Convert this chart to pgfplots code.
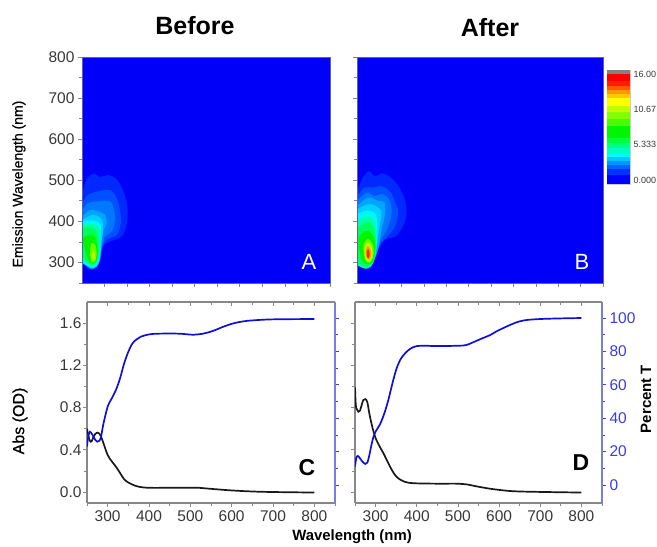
\documentclass[border=0pt]{standalone}
\usepackage{pgfplots}
\pgfplotsset{compat=1.18}
\usepackage{fontspec}
\setmainfont{Liberation Sans}
\newfontfamily\semib[FakeBold=0.6]{Liberation Sans}
\definecolor{bg}{RGB}{0,0,250}
\definecolor{tk}{RGB}{55,55,55}
\definecolor{fr}{RGB}{135,135,135}
\definecolor{bl}{RGB}{15,15,215}
\definecolor{bt}{RGB}{60,60,215}
\definecolor{c1}{RGB}{0,40,255}
\definecolor{c2}{RGB}{0,80,255}
\definecolor{c3}{RGB}{0,120,255}
\definecolor{c4}{RGB}{0,165,255}
\definecolor{c5}{RGB}{0,210,255}
\definecolor{c6}{RGB}{0,245,255}
\definecolor{c7}{RGB}{0,255,170}
\definecolor{c8}{RGB}{0,255,90}
\definecolor{c9}{RGB}{0,245,0}
\definecolor{c10}{RGB}{110,255,0}
\definecolor{c11}{RGB}{190,255,0}
\definecolor{c12}{RGB}{255,160,0}
\definecolor{c13}{RGB}{255,40,0}
\pgfplotsset{
  base/.style={scale only axis, anchor=south west, clip=true,
    /pgf/number format/assume math mode=true,
    tick label style={font=\fontsize{15.5}{16}\selectfont, text=tk},
    axis line style={draw=fr, line width=0.9pt},
    every tick/.style={draw=fr, line width=0.7pt},
    major tick length=4pt, minor tick length=3pt, tick align=outside},
  heat/.style={base, width=248pt, height=226pt, xmin=250, xmax=800, ymin=250, ymax=800,
    xtick={300,350,...,800}, xticklabels={}, ytick={300,400,...,800}, minor ytick={250,350,...,750},
    xtick pos=bottom, ytick pos=left, axis on top,
    axis line style={draw=fr!70!blue, line width=0.7pt}},
  band/.style={draw=none, smooth cycle, tension=0.6, fill=#1},
  low/.style={base, width=248pt, height=201pt, xmin=250, xmax=850, ymin=-0.104, ymax=1.799,
    axis x line*=bottom, axis y line*=left,
    xtick={300,400,...,800}, minor xtick={250,350,...,850},
    ytick={0,0.4,...,1.6}, minor ytick={0.2,0.6,...,1.4},
    yticklabel style={/pgf/number format/fixed, /pgf/number format/fixed zerofill, /pgf/number format/precision=1, xshift=2pt},
    axis line style={draw=fr, line width=1.1pt}},
  lowT/.style={base, width=248pt, height=201pt, xmin=250, xmax=850, ymin=-10.8, ymax=109.6,
    axis x line=none, axis y line*=right, ytick={0,20,...,100}, minor ytick={10,30,...,90},
    axis line style={draw={rgb,255:red,125;green,125;blue,225}, line width=1.1pt},
    every tick/.style={draw=bt, line width=0.7pt},
    tick label style={font=\fontsize{15.5}{16}\selectfont, text=bt}},
  lowTop/.style={base, width=248pt, height=201pt, xmin=250, xmax=850, ymin=0, ymax=1,
    axis y line=none, axis x line*=top, tick align=inside,
    xtick={300,400,...,800}, minor xtick={250,350,...,850}, xticklabels={},
    axis line style={draw=fr, line width=1.1pt}},
  abs/.style={black!90, line width=1.7pt, smooth, tension=0.55},
  trans/.style={bl, line width=1.7pt, smooth, tension=0.55},
}
\newcommand{\cb}[5]{\addplot[draw=none, fill={rgb,255:red,#1;green,#2;blue,#3}] coordinates {(0,#4) (1,#4) (1,#5) (0,#5)} --cycle;}
\begin{document}
\begin{tikzpicture}[x=1pt,y=1pt]
\useasboundingbox (0,0) rectangle (657,547);
% ---------- heat map A
\begin{axis}[heat, at={(82pt,264pt)}]
\addplot[draw=none, fill=bg] coordinates {(250,250) (800,250) (800,800) (250,800)} --cycle;
\addplot[band=c1] coordinates {(250,469)(260,502)(275,516)(290,508)(308,513)(327,502)(342,473)(351,433)(349,392)(338,363)(312,351)(297,339)(286,298)(271,282)(250,298)(235,298)(235,440)};
\addplot[band=c2] coordinates {(250,445)(264,465)(286,473)(312,476)(327,457)(334,428)(336,396)(327,367)(305,355)(294,335)(287,300)(273,283)(250,298)(235,298)(235,430)};
\addplot[band=c3] coordinates {(250,428)(264,445)(286,449)(312,449)(321,428)(323,400)(316,376)(301,363)(294,335)(287,300)(274,284)(250,298)(235,298)(235,420)};
\addplot[band=c4] coordinates {(250,412)(268,428)(286,424)(301,416)(305,396)(297,376)(294,347)(289,302)(274,285)(250,298)(235,298)(235,405)};
\addplot[band=c5] coordinates {(250,404)(275,416)(294,404)(297,384)(294,355)(288,304)(274,286)(250,299)(235,299)(235,400)};
\addplot[band=c6] coordinates {(250,400)(275,402)(291,392)(291,355)(288,306)(274,287)(250,300)(235,300)(235,398)};
\addplot[band=c7] coordinates {(250,392)(271,394)(288,384)(290,347)(286,306)(275,289)(264,294)(250,306)(235,306)(235,390)};
\addplot[band=c8] coordinates {(250,384)(275,384)(286,363)(286,315)(275,294)(260,302)(250,315)(235,315)(235,384)};
\addplot[band=c9] coordinates {(253,359)(275,367)(284,339)(284,311)(275,297)(264,306)(257,331)};
\addplot[band=c10] coordinates {(271,347)(279,343)(282.5,323)(279,302)(271,302)(268,323)};
\addplot[band=c11] coordinates {(275,331)(279,315)(275,305)(271,315)};
\end{axis}
% ---------- heat map B
\begin{axis}[heat, at={(357pt,264pt)}, width=246pt, yticklabels={}]
\addplot[draw=none, fill=bg] coordinates {(250,250) (800,250) (800,800) (250,800)} --cycle;
\addplot[band=c1] coordinates {(250,474)(263,506)(277,522)(289.5,510)(308,517)(330.5,502)(349,474)(360,438)(357,398)(338,365)(316,357)(301,341)(289.5,309)(275,285)(250,293)(235,293)(235,450)};
\addplot[band=c2] coordinates {(250,462)(267,482)(286,482)(304.5,486)(323,474)(334,450)(342,422)(334,385)(316,361)(301,341)(289,309)(275,286)(250,294)(235,294)(235,450)};
\addplot[band=c3] coordinates {(250,450)(271,470)(289.5,462)(308,466)(323,450)(327,418)(316,377)(304.5,357)(289,309)(275,286)(250,294)(235,294)(235,440)};
\addplot[band=c4] coordinates {(250,438)(275,458)(297,450)(312,446)(312,414)(304.5,377)(299,341)(289,309)(275,287)(250,295)(235,295)(235,430)};
\addplot[band=c5] coordinates {(250,430)(278,442)(301,430)(304.5,414)(297,365)(289,309)(275,287)(250,295)(235,295)(235,425)};
\addplot[band=c6] coordinates {(250,418)(275,426)(293,414)(295,361)(289.5,309)(275,288)(250,296)(235,296)(235,415)};
\addplot[band=c7] coordinates {(250,402)(275,414)(289.5,398)(293,349)(286,301)(271,285)(250,293)(235,293)(235,400)};
\addplot[band=c8] coordinates {(250,385)(275,398)(289.5,377)(292,333)(286,301)(271,289)(256,297)(235,300)(235,385)};
\addplot[band=c9] coordinates {(254.5,361)(275,377)(289.5,353)(289.5,317)(282,297)(267,297)(257.5,317)};
\addplot[band=c10] coordinates {(265,345)(275,357)(286,341)(286,313)(278,299)(269,305)(265,325)};
\addplot[band=c11] coordinates {(267,337)(275,349)(283.6,333)(283.6,313)(277,302)(269,309)};
\addplot[band=c12] coordinates {(269,329)(275,341)(281,329)(281,313)(276,306)(271,313)};
\addplot[band=c13] coordinates {(271.6,325)(275,333)(278,325)(278,315)(275.4,310)(272,315)};
\end{axis}
% ---------- colour scale
\begin{axis}[base, at={(607pt,363pt)}, width=23pt, height=114pt, xmin=0, xmax=1, ymin=-0.6, ymax=16.6,
  xtick=\empty, ytick={0,5.333,10.67,16}, yticklabels={0.000,5.333,10.67,16.00}, ytick pos=right,
  major tick length=0pt, axis line style={draw=gray!40, line width=0.5pt},
  tick label style={font=\fontsize{9}{10}\selectfont, text=tk}]
\cb{0}{0}{255}{-0.6}{0.8}
\cb{0}{50}{255}{0.8}{1.6}
\cb{0}{100}{255}{1.6}{2.3}
\cb{0}{150}{255}{2.3}{2.9}
\cb{0}{200}{255}{2.9}{3.4}
\cb{0}{250}{255}{3.4}{4.0}
\cb{0}{255}{190}{4.0}{4.8}
\cb{0}{255}{130}{4.8}{5.6}
\cb{0}{255}{60}{5.6}{6.4}
\cb{0}{245}{0}{6.4}{8.2}
\cb{70}{255}{0}{8.2}{9.2}
\cb{130}{255}{0}{9.2}{10.2}
\cb{190}{255}{0}{10.2}{11.2}
\cb{255}{255}{0}{11.2}{12.4}
\cb{255}{200}{0}{12.4}{13.0}
\cb{255}{150}{0}{13.0}{13.6}
\cb{255}{90}{0}{13.6}{14.2}
\cb{255}{30}{0}{14.2}{15.0}
\cb{250}{0}{0}{15.0}{16.0}
\cb{130}{130}{130}{16.0}{16.6}
\end{axis}
% ---------- panel C
\begin{axis}[low, at={(87pt,44pt)}]
\addplot[abs] coordinates {(250,0.60)(253,0.54)(257,0.485)(261,0.478)(266,0.525)(270,0.55)(275,0.563)(280,0.553)(284,0.525)(290,0.46)(300,0.35)(310,0.29)(320,0.24)(330,0.18)(340,0.12)(350,0.09)(360,0.07)(375,0.05)(400,0.04)(450,0.04)(500,0.04)(520,0.04)(550,0.03)(600,0.015)(650,0.005)(700,0)(800,-0.005)};
\end{axis}
\begin{axis}[lowT, at={(87pt,44pt)}, yticklabels={}]
\addplot[trans] coordinates {(250,23)(253,29)(257,31.9)(262,30.5)(266,28.9)(270,27)(275,25.9)(280,26.5)(284,28.9)(290,36.9)(300,46.9)(310,51.9)(320,56.9)(330,63.9)(340,72.9)(350,79.8)(360,84.8)(370,87.2)(380,88.8)(400,90.2)(420,90.6)(450,90.7)(476,90.6)(508,90)(534,90.8)(556,92.4)(580,94.8)(604,96.8)(628,98)(652,98.6)(700,99.2)(800,99.4)};
\end{axis}
\begin{axis}[lowTop, at={(87pt,44pt)}]\end{axis}
% ---------- panel D
\begin{axis}[low, at={(355pt,44pt)}, width=247pt, yticklabels={}]
\addplot[abs] coordinates {(250,0.99)(252,0.82)(255,0.78)(258,0.76)(262,0.77)(266,0.82)(270,0.87)(275,0.88)(280,0.85)(285,0.74)(290,0.65)(295,0.57)(300,0.51)(310,0.43)(320,0.36)(330,0.28)(340,0.205)(350,0.148)(360,0.117)(370,0.098)(380,0.088)(400,0.082)(450,0.079)(500,0.079)(520,0.073)(550,0.05)(580,0.03)(600,0.02)(650,0.005)(800,-0.005)};
\end{axis}
\begin{axis}[lowT, at={(355pt,44pt)}, width=247pt]
\addplot[trans] coordinates {(250,11)(253,16)(257,17.4)(262,16)(268,14)(275,12.6)(280,13.4)(285,18)(290,24)(295,29)(300,32)(310,36)(320,42)(330,50)(340,60)(350,69)(360,75)(370,78.4)(380,80.8)(390,82.4)(400,83.2)(420,83.4)(450,83.2)(500,83.4)(520,83.8)(540,85.8)(553,87.2)(580,90)(600,92.8)(650,98)(700,99.4)(800,100)};
\end{axis}
\begin{axis}[lowTop, at={(355pt,44pt)}, width=247pt]\end{axis}
% ---------- texts
\node[font=\fontsize{25}{26}\selectfont\bfseries] at (195,521) {Before};
\node[font=\fontsize{25}{26}\selectfont\bfseries] at (490,519) {After};
\node[font=\fontsize{14}{15}\selectfont\semib, rotate=90, text=black] at (19,363) {Emission Wavelength (nm)};
\node[font=\fontsize{16}{17}\selectfont\semib, rotate=90, text=black] at (20,126) {Abs (OD)};
\node[font=\fontsize{15}{16}\selectfont\bfseries, rotate=90] at (646,148) {Percent T};
\node[font=\fontsize{14.9}{15}\selectfont\bfseries] at (352,10) {Wavelength (nm)};
\node[font=\fontsize{22}{23}\selectfont, text=white] at (309,285) {A};
\node[font=\fontsize{22}{23}\selectfont, text=white] at (582,285) {B};
\node[font=\fontsize{23}{24}\selectfont\bfseries] at (307,79) {C};
\node[font=\fontsize{23}{24}\selectfont\bfseries] at (581,84) {D};
\end{tikzpicture}
\end{document}
